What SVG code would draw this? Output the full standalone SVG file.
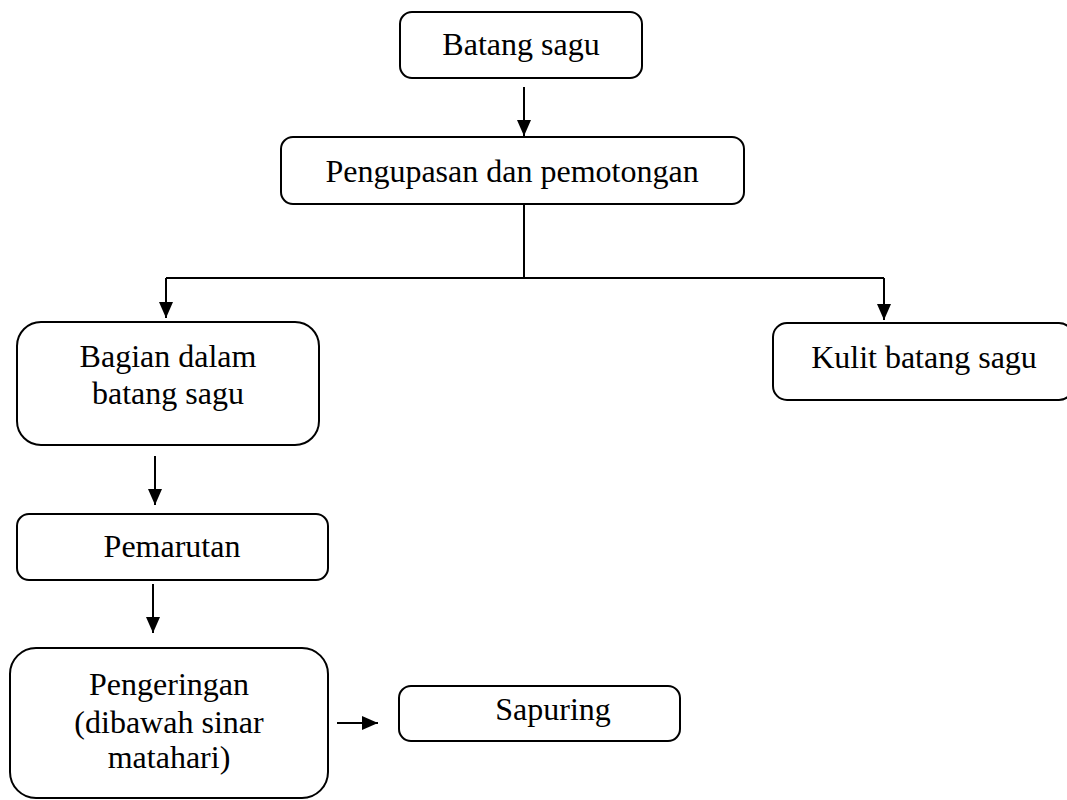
<svg xmlns="http://www.w3.org/2000/svg" width="1067" height="800" viewBox="0 0 1067 800">
<style>
.box{fill:#fff;stroke:#000;stroke-width:2}
.t{font-family:"Liberation Serif","Times New Roman",serif;font-size:32px;fill:#000;text-anchor:middle}
.c{stroke:#000;stroke-width:2;fill:none}
</style>
<defs>
<marker id="ah" viewBox="0 0 16 14" refX="16" refY="7" markerWidth="16" markerHeight="14" markerUnits="userSpaceOnUse" orient="auto">
<path d="M0,0 L16,7 L0,14 Z" fill="#000"/>
</marker>
</defs>
<rect width="1067" height="800" fill="#fff"/>
<g id="connectors">
<line class="c" x1="524" y1="87" x2="524" y2="136" marker-end="url(#ah)"/>
<polyline class="c" points="524,204 524,278"/>
<polyline class="c" points="166,278 884,278"/>
<line class="c" x1="166" y1="278" x2="166" y2="318" marker-end="url(#ah)"/>
<line class="c" x1="884" y1="278" x2="884" y2="320" marker-end="url(#ah)"/>
<line class="c" x1="155" y1="456" x2="155" y2="505" marker-end="url(#ah)"/>
<line class="c" x1="153" y1="584" x2="153" y2="633" marker-end="url(#ah)"/>
<line class="c" x1="337" y1="723" x2="378" y2="723" marker-end="url(#ah)"/>
</g>
<g id="n1"><rect class="box" x="400" y="12" width="242" height="66" rx="12"/><text class="t" x="521" y="55">Batang sagu</text></g>
<g id="n2"><rect class="box" x="281" y="137" width="463" height="67" rx="12"/><text class="t" x="512" y="182">Pengupasan dan pemotongan</text></g>
<g id="n3"><rect class="box" x="17" y="322" width="302" height="123" rx="24"/><text class="t" x="168" y="367">Bagian dalam</text><text class="t" x="168" y="404">batang sagu</text></g>
<g id="n4"><rect class="box" x="773" y="323" width="300" height="77" rx="14"/><text class="t" x="924" y="368">Kulit batang sagu</text></g>
<g id="n5"><rect class="box" x="17" y="514" width="311" height="66" rx="12"/><text class="t" x="172" y="557">Pemarutan</text></g>
<g id="n6"><rect class="box" x="10" y="648" width="318" height="150" rx="26"/><text class="t" x="169" y="695">Pengeringan</text><text class="t" x="169" y="733">(dibawah sinar</text><text class="t" x="169" y="768">matahari)</text></g>
<g id="n7"><rect class="box" x="399" y="686" width="281" height="55" rx="12"/><text class="t" x="553" y="720">Sapuring</text></g>
</svg>
